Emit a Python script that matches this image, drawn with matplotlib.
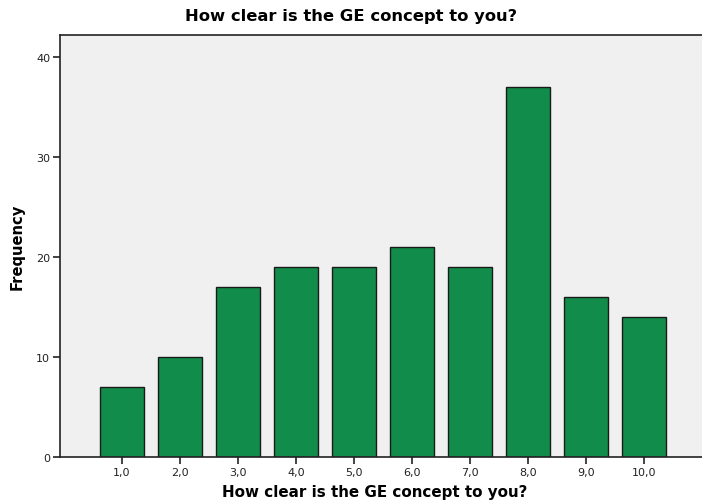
import matplotlib.pyplot as plt
import numpy as np

# Frequencies
categories = ['1,0', '2,0', '3,0', '4,0', '5,0', '6,0', '7,0', '8,0', '9,0', '10,0']
frequency = [7, 10, 17, 19, 19, 21, 19, 37, 16, 14]
y_ticks = [0, 10, 20, 30, 40]

plac = np.arange(1, len(categories) + 1)

fig = plt.figure(figsize=(7.02, 5.02), dpi=100)
ax = fig.add_axes([60 / 702, 44 / 502, 642 / 702, 422 / 502])
ax.set_facecolor('#F0F0F0')

ax.bar(plac, frequency, 0.75, color='#128C4A', edgecolor='#1a1a1a', linewidth=1.0, zorder=2)

ax.set_xlim(-0.07, 11.0)
ax.set_ylim(0, 42.2)
ax.set_xticks(plac)
ax.set_xticklabels(categories)
ax.set_yticks(y_ticks)

ax.tick_params(axis='both', direction='out', length=5, width=1.2, labelsize=8, colors='#222222', pad=2)
for side in ['left', 'bottom', 'top']:
    ax.spines[side].set_color('#222222')
    ax.spines[side].set_linewidth(1.2)
ax.spines['right'].set_visible(False)

# title is centred on the whole image, not on the plot area
ax.set_title('How clear is the GE concept to you?', fontsize=11.8, fontweight='bold', pad=11, x=0.453)
ax.set_xlabel('How clear is the GE concept to you?', fontsize=10.9, fontweight='bold', labelpad=5, x=0.49)
ax.set_ylabel('Frequency', fontsize=10.6, fontweight='bold', labelpad=8)

fig.savefig('out.png', dpi=100)
